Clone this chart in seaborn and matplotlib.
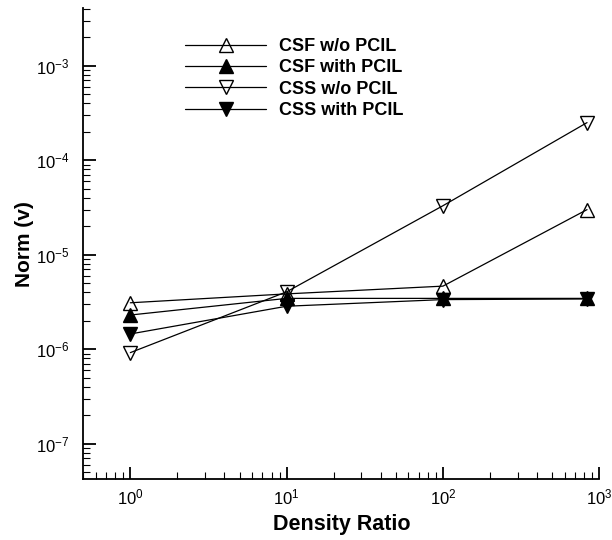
import numpy as np
import pandas as pd
import matplotlib
matplotlib.use("Agg")
import matplotlib.pyplot as plt
import seaborn as sns
from matplotlib.ticker import LogLocator, NullFormatter

# Data
density_ratio = [1, 10, 100, 835]
csf_wo_pcil = [3.1e-6, 3.85e-6, 4.65e-6, 3.0e-5]
csf_with_pcil = [2.3e-6, 3.45e-6, 3.45e-6, 3.45e-6]
css_wo_pcil = [9.2e-7, 4.05e-6, 3.3e-5, 2.5e-4]
css_with_pcil = [1.45e-6, 2.85e-6, 3.35e-6, 3.4e-6]

series_labels = ["CSF w/o PCIL", "CSF with PCIL", "CSS w/o PCIL", "CSS with PCIL"]
series_values = [csf_wo_pcil, csf_with_pcil, css_wo_pcil, css_with_pcil]
series_markers = ["^", "^", "v", "v"]
series_fills = ["none", "black", "none", "black"]

sns.set_style("ticks")
plt.rcParams["font.family"] = ["Liberation Sans", "DejaVu Sans"]
for key in ("text.color", "axes.labelcolor", "xtick.color", "ytick.color", "axes.edgecolor"):
    plt.rcParams[key] = "black"

fig = plt.figure(figsize=(6.12, 5.4), dpi=100)
ax = fig.add_axes([0.1361, 0.1124, 0.8431, 0.8722])

for label, vals, mk, fc in zip(series_labels, series_values, series_markers, series_fills):
    df = pd.DataFrame({"ratio": density_ratio, "norm": vals})
    sns.lineplot(data=df, x="ratio", y="norm", ax=ax, color="black", linewidth=0.9,
                 marker=mk, markersize=10, markerfacecolor=fc, markeredgecolor="black",
                 markeredgewidth=1.0, label=label)

ax.set_xscale("log")
ax.set_yscale("log")
ax.set_xlim(0.5, 1000)
ax.set_ylim(4.2e-8, 4.05e-3)

for axis in (ax.xaxis, ax.yaxis):
    axis.set_major_locator(LogLocator(base=10, numticks=100))
    axis.set_minor_locator(LogLocator(base=10, subs=np.arange(2, 10), numticks=100))
    axis.set_minor_formatter(NullFormatter())

sns.despine(ax=ax)
for side in ("left", "bottom"):
    ax.spines[side].set_linewidth(1.3)
ax.tick_params(which="major", direction="in", length=9, width=1.3, labelsize=12)
ax.tick_params(axis="y", which="major", pad=10)
ax.tick_params(axis="x", which="major", pad=6)
ax.tick_params(which="minor", direction="in", length=5, width=0.8)

ax.set_xlabel("Density Ratio", fontsize=15.5, fontweight="bold", labelpad=5)
ax.set_ylabel("Norm (v)", fontsize=15, fontweight="bold", labelpad=1)

ax.legend(loc="upper left", bbox_to_anchor=(0.197, 0.937), frameon=False,
          prop={"weight": "bold", "size": 13}, handlelength=4.5, handletextpad=0.7,
          labelspacing=0.24, borderpad=0, borderaxespad=0)

fig.savefig("out.png", dpi=100)
